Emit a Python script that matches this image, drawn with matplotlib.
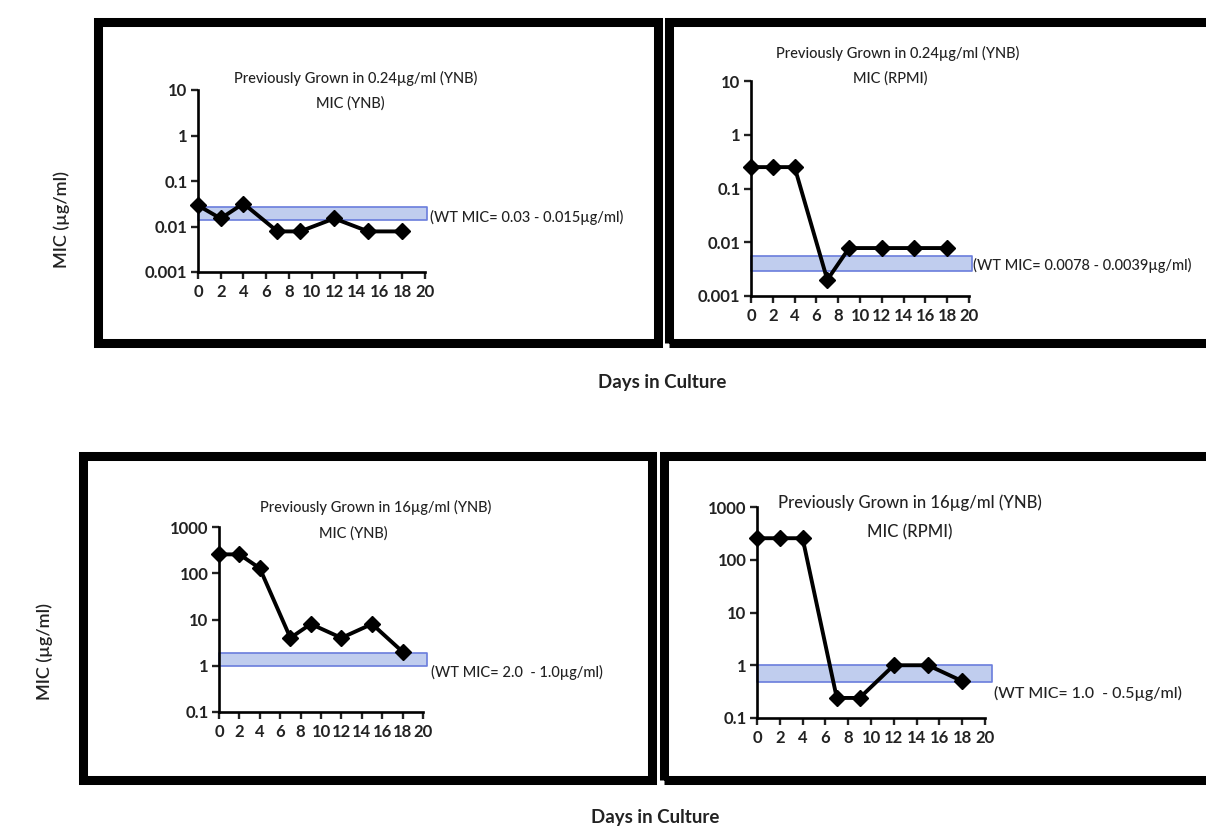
import matplotlib
matplotlib.use("Agg")
import matplotlib.pyplot as plt
from matplotlib.patches import Rectangle

plt.rcParams['font.family'] = ['Lato', 'DejaVu Sans']

W, H = 1206, 827

# Days sampled
days = [0, 2, 4, 7, 9, 12, 15, 18]

# MIC values
mic_024_ynb = [0.029, 0.015, 0.032, 0.0078, 0.0078, 0.015, 0.0078, 0.0078]
mic_024_rpmi = [0.25, 0.25, 0.25, 0.002, 0.0078, 0.0078, 0.0078, 0.0078]
mic_16_ynb = [256, 256, 128, 4, 8, 4, 8, 2]
mic_16_rpmi = [256, 256, 256, 0.24, 0.24, 1.0, 1.0, 0.5]

# wild type MIC bands (as drawn)
band_024_ynb = (0.014, 0.027)
band_024_rpmi = (0.0029, 0.0055)
band_16_ynb = (1.0, 1.9)
band_16_rpmi = (0.48, 1.0)

x_ticks = [0, 2, 4, 6, 8, 10, 12, 14, 16, 18, 20]
y_ticks_low = [0.001, 0.01, 0.1, 1, 10]
y_labels_low = ['0.001', '0.01', '0.1', '1', '10']
y_ticks_high = [0.1, 1, 10, 100, 1000]
y_labels_high = ['0.1', '1', '10', '100', '1000']

title_024 = "Previously Grown in 0.24\u00b5g/ml (YNB)"
title_16 = "Previously Grown in 16\u00b5g/ml (YNB)"
wt_labels = ["(WT MIC= 0.03 - 0.015\u00b5g/ml)",
             "(WT MIC= 0.0078 - 0.0039\u00b5g/ml)",
             "(WT MIC= 2.0  - 1.0\u00b5g/ml)",
             "(WT MIC= 1.0  - 0.5\u00b5g/ml)"]

TXT = '#222222'
BAND_FC = '#c0cdee'
BAND_EC = '#6a7ddc'

fig = plt.figure(figsize=(W / 100, H / 100), dpi=100)


def fx(x):
    return x / W


def fy(y):
    return 1 - y / H


def box(x0, y0, x1, y1):
    r = Rectangle((fx(x0), fy(y1)), fx(x1) - fx(x0), fy(y0) - fy(y1),
                  transform=fig.transFigure, fill=False, lw=6.5,
                  edgecolor='black', joinstyle='miter')
    fig.patches.append(r)


def panel(px0, px20, ptop, pbot, y, band, band_end, yt, yl):
    ax = fig.add_axes([fx(px0), fy(pbot), fx(px20) - fx(px0), fy(ptop) - fy(pbot)])
    ax.set_yscale('log')
    ax.set_xlim(0, 20)
    ax.set_ylim(yt[0], yt[-1])
    ax.fill_between([0, band_end], band[0], band[1], facecolor=BAND_FC,
                    edgecolor=BAND_EC, lw=1.2, clip_on=False, zorder=1)
    ax.plot(days, y, color='black', lw=2.8, marker='D', ms=8, zorder=3,
            clip_on=False)
    ax.set_xticks(x_ticks)
    ax.set_yticks(yt)
    ax.set_yticklabels(yl)
    ax.minorticks_off()
    for s in ['top', 'right']:
        ax.spines[s].set_visible(False)
    for s in ['left', 'bottom']:
        ax.spines[s].set_linewidth(1.9)
    ax.tick_params(direction='out', length=5, width=1.7, labelsize=12,
                   colors=TXT, pad=2.5)
    ax.tick_params(axis='x', pad=3.5)
    for lab in ax.get_xticklabels() + ax.get_yticklabels():
        lab.set_fontweight('bold')
    ax.patch.set_alpha(0)
    return ax


# frames
box(97.5, 22.5, 657.5, 342.5)
box(668.5, 22.5, 1220, 342.5)
box(83, 456, 652.5, 779.5)
box(663.5, 456, 1220, 779.5)

panel(198, 425, 90, 272, mic_024_ynb, band_024_ynb, 20.2, y_ticks_low, y_labels_low)
panel(751, 969, 81, 296, mic_024_rpmi, band_024_rpmi, 20.3, y_ticks_low, y_labels_low)
panel(219, 423, 527, 712, mic_16_ynb, band_16_ynb, 20.4, y_ticks_high, y_labels_high)
panel(757, 985, 507, 718, mic_16_rpmi, band_16_rpmi, 20.6, y_ticks_high, y_labels_high)

# panel titles
tw = 'medium'
fig.text(fx(356), fy(78), title_024, ha='center', va='center', fontsize=10.5, color=TXT, fontweight=tw)
fig.text(fx(350), fy(103), "MIC (YNB)", ha='center', va='center', fontsize=10.5, color=TXT, fontweight=tw)
fig.text(fx(898), fy(53), title_024, ha='center', va='center', fontsize=10.5, color=TXT, fontweight=tw)
fig.text(fx(890), fy(78), "MIC (RPMI)", ha='center', va='center', fontsize=10.5, color=TXT, fontweight=tw)
fig.text(fx(376), fy(507), title_16, ha='center', va='center', fontsize=10.5, color=TXT, fontweight=tw)
fig.text(fx(353), fy(533), "MIC (YNB)", ha='center', va='center', fontsize=10.5, color=TXT, fontweight=tw)
fig.text(fx(910), fy(503), title_16, ha='center', va='center', fontsize=12, color=TXT, fontweight=tw)
fig.text(fx(910), fy(532), "MIC (RPMI)", ha='center', va='center', fontsize=12, color=TXT, fontweight=tw)

# WT annotations
fig.text(fx(430), fy(217), wt_labels[0], ha='left', va='center', fontsize=10.5, color=TXT, fontweight=tw)
fig.text(fx(973), fy(265), wt_labels[1], ha='left', va='center', fontsize=10.5, color=TXT, fontweight=tw)
fig.text(fx(431), fy(672), wt_labels[2], ha='left', va='center', fontsize=10.5, color=TXT, fontweight=tw)
fig.text(fx(994), fy(693), wt_labels[3], ha='left', va='center', fontsize=11.5, color=TXT, fontweight=tw)

# shared labels
fig.text(fx(62), fy(220), "MIC (\u00b5g/ml)", rotation=90, ha='center', va='center',
         fontsize=13, fontweight='semibold', color=TXT)
fig.text(fx(45), fy(652), "MIC (\u00b5g/ml)", rotation=90, ha='center', va='center',
         fontsize=13, fontweight='semibold', color=TXT)
fig.text(fx(662), fy(382), "Days in Culture", ha='center', va='center',
         fontsize=13.5, fontweight='bold', color=TXT)
fig.text(fx(655), fy(817), "Days in Culture", ha='center', va='center',
         fontsize=13.5, fontweight='bold', color=TXT)

fig.savefig("out.png", dpi=100)
